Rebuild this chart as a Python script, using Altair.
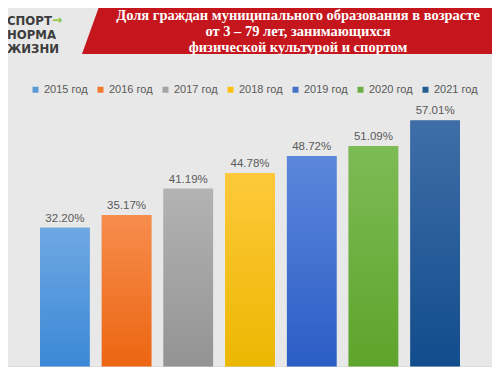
import altair as alt
import pandas as pd

years = ["2015 год", "2016 год", "2017 год", "2018 год", "2019 год", "2020 год", "2021 год"]
values = [32.20, 35.17, 41.19, 44.78, 48.72, 51.09, 57.01]
legend_colors = ["#5b9bd5", "#f07b2c", "#a5a5a5", "#fdc010", "#4472c4", "#6fad47", "#255e91"]
grad_top = ["#6fa8e3", "#f78d4d", "#b3b3b3", "#fec93a", "#5c86dc", "#7dbb55", "#3f6ea7"]
grad_bottom = ["#3b88d6", "#ec6511", "#939393", "#ecb700", "#2a5dc5", "#5ea42b", "#114c8c"]
title_lines = ["Доля граждан муниципального образования в возрасте",
               "от 3 – 79 лет, занимающихся",
               "физической культурой и спортом"]
logo_lines = ["СПОРТ", "НОРМА", "ЖИЗНИ"]

BG = "#e8e8e8"

df = pd.DataFrame({"year": years, "value": values})

x_enc = alt.X("year:N", axis=None, sort=years,
              scale=alt.Scale(paddingInner=0.197, paddingOuter=0.52))
y_enc = alt.Y("value:Q", axis=None, scale=alt.Scale(domain=[0, 83], nice=False, zero=True))

base = alt.Chart(df)

bars = base.mark_bar().encode(
    x=x_enc, y=y_enc,
    color=alt.Color("year:N", sort=years,
                    scale=alt.Scale(domain=years, range=legend_colors),
                    legend=alt.Legend(orient="none", legendX=22, legendY=76,
                                      direction="horizontal", columns=7,
                                      title=None, symbolType="square", symbolSize=36,
                                      symbolStrokeWidth=0, labelFontSize=11,
                                      labelColor="#595959", labelFont="Liberation Sans",
                                      labelOffset=3, columnPadding=7, padding=0)),
)

layers = [bars]
for yr, top, bot in zip(years, grad_top, grad_bottom):
    layers.append(
        base.transform_filter(alt.datum.year == yr).mark_bar(
            color=alt.Gradient(gradient="linear",
                               stops=[alt.GradientStop(color=top, offset=0),
                                      alt.GradientStop(color=bot, offset=1)],
                               x1=0, x2=0, y1=0, y2=1)
        ).encode(x=x_enc, y=y_enc)
    )

labels = base.transform_calculate(
    label="format(datum.value, '.2f') + '%'"
).mark_text(baseline="bottom", dy=-4, fontSize=11.5, color="#595959",
            font="Liberation Sans").encode(x=x_enc, y=y_enc, text="label:N")

baseline = alt.Chart(pd.DataFrame({"v": [0]})).mark_rule(color="#d4d4d4", strokeWidth=1).encode(
    y=alt.Y("v:Q", scale=alt.Scale(domain=[0, 83], nice=False), axis=None),
    x=alt.value(-3), x2=alt.value(487))

one = pd.DataFrame({"k": [0]})
banner = alt.Chart(one).mark_point(
    shape="M -7.64 -1 L 8.36 -1 L 8.36 1 L -8.36 1 Z",
    filled=True, color="#c4161c", opacity=1, strokeWidth=0, size=2500
).encode(x=alt.value(283), y=alt.value(21))

title = alt.Chart(one).mark_text(
    font="Liberation Serif", fontWeight="bold", fontSize=14.5, color="white",
    align="center", baseline="alphabetic", lineHeight=16.3
).encode(x=alt.value(290), y=alt.value(11.5), text=alt.value(title_lines))

logo = alt.Chart(one).mark_text(
    font="DejaVu Sans Condensed", fontWeight="bold", fontSize=13, color="#3c3c3c",
    align="left", baseline="alphabetic", lineHeight=14
).encode(x=alt.value(-1), y=alt.value(17), text=alt.value(logo_lines))

arrow = alt.Chart(one).mark_text(
    font="DejaVu Sans", fontWeight="bold", fontSize=12, color="#8cc63e",
    align="left", baseline="alphabetic"
).encode(x=alt.value(44), y=alt.value(16), text=alt.value("→"))

chart = alt.layer(banner, title, logo, arrow, *layers, labels, baseline).properties(
    width=484, height=359, background=BG, padding=0,
    autosize=alt.AutoSizeParams(type="none")
).configure_view(stroke=None)

chart.save("out.html", embed_options={"renderer": "svg", "actions": False})
